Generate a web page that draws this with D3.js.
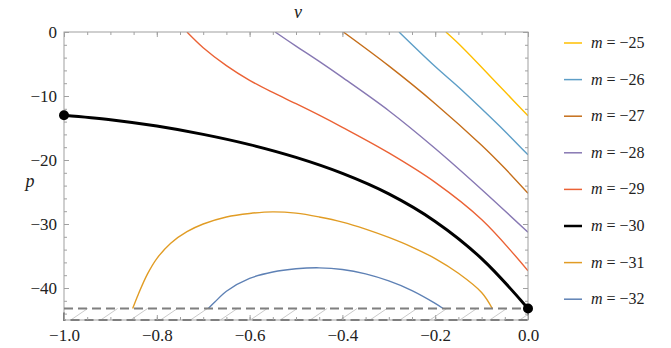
<!DOCTYPE html>
<html>
<head>
<meta charset="utf-8">
<script src="https://cdn.jsdelivr.net/npm/d3@7"></script>
<style>
  body { margin: 0; background: #fff; }
  svg text { font-family: "Liberation Serif", "Times New Roman", Times, Tinos, "DejaVu Serif", serif; fill: #222; }
</style>
</head>
<body>
<div id="chart"></div>
<script>
// values: v on x, p on y
var mValues = [-25, -26, -27, -28, -29, -30, -31, -32];
var colors = ["#ffbf00", "#5d9ec7", "#c56e1a", "#8778b3", "#eb6235", "#000000", "#e19c24", "#5e81b5"];

var v25 = [-0.177, -0.15, -0.1, -0.05, 0];
var p25 = [0, -1.8, -5.5, -9.3, -13.1];
var v26 = [-0.278, -0.2, -0.15, -0.1, -0.05, 0];
var p26 = [0, -5.4, -8.6, -12.0, -15.5, -19.2];
var v27 = [-0.398, -0.3, -0.2, -0.1, -0.05, 0];
var p27 = [0, -5.3, -11.2, -17.7, -21.3, -25.2];
var v28 = [-0.545, -0.5, -0.45, -0.4, -0.3, -0.2, -0.1, 0];
var p28 = [0, -2.2, -4.6, -7.1, -12.3, -18.2, -24.6, -31.3];
var v29 = [-0.735, -0.7, -0.65, -0.6, -0.55, -0.5, -0.45, -0.4, -0.3, -0.2, -0.1, 0];
var p29 = [0, -2.45, -5.25, -7.55, -9.45, -11.2, -13.0, -14.9, -18.9, -23.5, -29.3, -37.3];
var v30 = [-1, -0.9, -0.8, -0.7, -0.6, -0.5, -0.4, -0.3, -0.2, -0.1, 0];
var p30 = [-13, -13.7, -14.7, -16.0, -17.6, -19.6, -22.1, -25.3, -29.6, -35.4, -43.2];
var v31 = [-0.852, -0.84, -0.82, -0.8, -0.77, -0.735, -0.7, -0.65, -0.6, -0.55, -0.5, -0.45, -0.4, -0.35, -0.3, -0.25, -0.2, -0.15, -0.1, -0.077];
var p31 = [-43.2, -41.0, -37.8, -35.4, -33.0, -31.2, -30.0, -28.9, -28.35, -28.1, -28.3, -28.9, -29.7, -30.8, -32.1, -33.6, -35.4, -37.7, -40.7, -43.2];
var v32 = [-0.689, -0.675, -0.65, -0.6, -0.55, -0.5, -0.45, -0.4, -0.35, -0.3, -0.25, -0.2, -0.183];
var p32 = [-43.2, -42.2, -40.5, -38.5, -37.5, -37.0, -36.85, -37.1, -37.8, -38.9, -40.4, -42.4, -43.2];

var endPoints = [[-1, -13], [0, -43.2]];
var bandTop = -43.2, bandBottom = -45;

var xTicks = [-1.0, -0.8, -0.6, -0.4, -0.2, 0.0];
var yTicks = [0, -10, -20, -30, -40];

var series = [
  {v: v25, p: p25}, {v: v26, p: p26}, {v: v27, p: p27}, {v: v28, p: p28},
  {v: v29, p: p29}, {v: v30, p: p30}, {v: v31, p: p31}, {v: v32, p: p32}
];

var W = 671, H = 348;
var serif = "Liberation Serif, Times New Roman, Times, Tinos, DejaVu Serif, serif";
var x = d3.scaleLinear().domain([-1, 0]).range([64, 528]);
var y = d3.scaleLinear().domain([-45, 0]).range([320, 32]);

var svg = d3.select("#chart").append("svg")
    .attr("width", W).attr("height", H);

svg.append("defs").append("clipPath").attr("id", "clip")
  .append("rect")
    .attr("x", x(-1)).attr("y", y(0))
    .attr("width", x(0) - x(-1)).attr("height", y(-45) - y(0));

var plot = svg.append("g").attr("clip-path", "url(#clip)");

// hatched band near the bottom
var hatch = d3.range(-1.05, 0.05, 0.0645);
plot.selectAll(".hatch").data(hatch).enter().append("line")
    .attr("x1", function(d) { return x(d); })
    .attr("y1", y(bandBottom))
    .attr("x2", function(d) { return x(d) + 17; })
    .attr("y2", y(bandTop))
    .attr("stroke", "#bdbdbd").attr("stroke-width", 0.8);

// frame
svg.append("rect")
    .attr("x", x(-1)).attr("y", y(0))
    .attr("width", x(0) - x(-1)).attr("height", y(-45) - y(0))
    .attr("fill", "none").attr("stroke", "#a0a0a0").attr("stroke-width", 1);

// dashed band outline
svg.append("rect")
    .attr("x", x(-1)).attr("y", y(bandTop))
    .attr("width", x(0) - x(-1)).attr("height", y(bandBottom) - y(bandTop))
    .attr("fill", "none").attr("stroke", "#7f7f7f").attr("stroke-width", 2)
    .attr("stroke-dasharray", "9,5");

// ticks (inward on all four sides)
function tickAxis(axis, tr, vals, size) {
  var g = svg.append("g").attr("transform", tr)
    .call(axis.tickValues(vals).tickSizeInner(size).tickSizeOuter(0).tickFormat(""));
  g.select(".domain").remove();
  g.selectAll(".tick line").attr("stroke", "#a0a0a0");
  return g;
}
var xMinor = d3.range(-1, 0.001, 0.05);
var yMinor = d3.range(0, -45.01, -2);
tickAxis(d3.axisBottom(x), "translate(0," + y(-45) + ")", xMinor, -3);
tickAxis(d3.axisTop(x), "translate(0," + y(0) + ")", xMinor, -3);
tickAxis(d3.axisLeft(y), "translate(" + x(-1) + ",0)", yMinor, -3);
tickAxis(d3.axisRight(y), "translate(" + x(0) + ",0)", yMinor, -3);
tickAxis(d3.axisTop(x), "translate(0," + y(0) + ")", xTicks, -5);
tickAxis(d3.axisRight(y), "translate(" + x(0) + ",0)", yTicks, -5);

var xa = svg.append("g").attr("transform", "translate(0," + y(-45) + ")")
  .call(d3.axisBottom(x).tickValues(xTicks).tickSizeInner(-5).tickSizeOuter(0).tickPadding(9)
    .tickFormat(function(d) { return d3.format(".1f")(d).replace("-", "\u2212"); }));
xa.select(".domain").remove();
xa.selectAll(".tick line").attr("stroke", "#a0a0a0");
xa.selectAll("text").attr("font-size", 17).attr("font-family", serif).attr("fill", "#222");

var ya = svg.append("g").attr("transform", "translate(" + x(-1) + ",0)")
  .call(d3.axisLeft(y).tickValues(yTicks).tickSizeInner(-5).tickSizeOuter(0).tickPadding(7)
    .tickFormat(function(d) { return d3.format("d")(d).replace("-", "\u2212"); }));
ya.select(".domain").remove();
ya.selectAll(".tick line").attr("stroke", "#a0a0a0");
ya.selectAll("text").attr("font-size", 17).attr("font-family", serif).attr("fill", "#222");

// curves
var line = d3.line()
    .x(function(d) { return x(d[0]); })
    .y(function(d) { return y(d[1]); })
    .curve(d3.curveCatmullRom.alpha(0.5));

series.forEach(function(s, i) {
  var pts = s.v.map(function(v, k) { return [v, s.p[k]]; });
  plot.append("path")
      .datum(pts)
      .attr("d", line)
      .attr("fill", "none")
      .attr("stroke", colors[i])
      .attr("stroke-width", mValues[i] === -30 ? 3 : 1.4);
});

svg.selectAll(".dot").data(endPoints).enter().append("circle")
    .attr("cx", function(d) { return x(d[0]); })
    .attr("cy", function(d) { return y(d[1]); })
    .attr("r", 5).attr("fill", "#000");

// axis labels
svg.append("text").attr("x", 298).attr("y", 18).attr("text-anchor", "middle")
  .attr("font-size", 18).attr("font-style", "italic").attr("font-family", serif).text("v");
svg.append("text").attr("x", 30).attr("y", 187).attr("text-anchor", "middle")
  .attr("font-size", 18).attr("font-style", "italic").attr("font-family", serif).text("p");

// legend
var legend = svg.append("g");
mValues.forEach(function(m, i) {
  var ly = 43 + i * 36.6;
  legend.append("line")
      .attr("x1", 564).attr("x2", 582).attr("y1", ly).attr("y2", ly)
      .attr("stroke", colors[i]).attr("stroke-width", m === -30 ? 2.5 : 1.5);
  var t = legend.append("text").attr("x", 591).attr("y", ly + 5)
      .attr("font-size", 16).attr("font-family", serif);
  t.append("tspan").attr("font-style", "italic").text("m");
  t.append("tspan").text(" = \u2212" + Math.abs(m));
});
</script>
</body>
</html>
